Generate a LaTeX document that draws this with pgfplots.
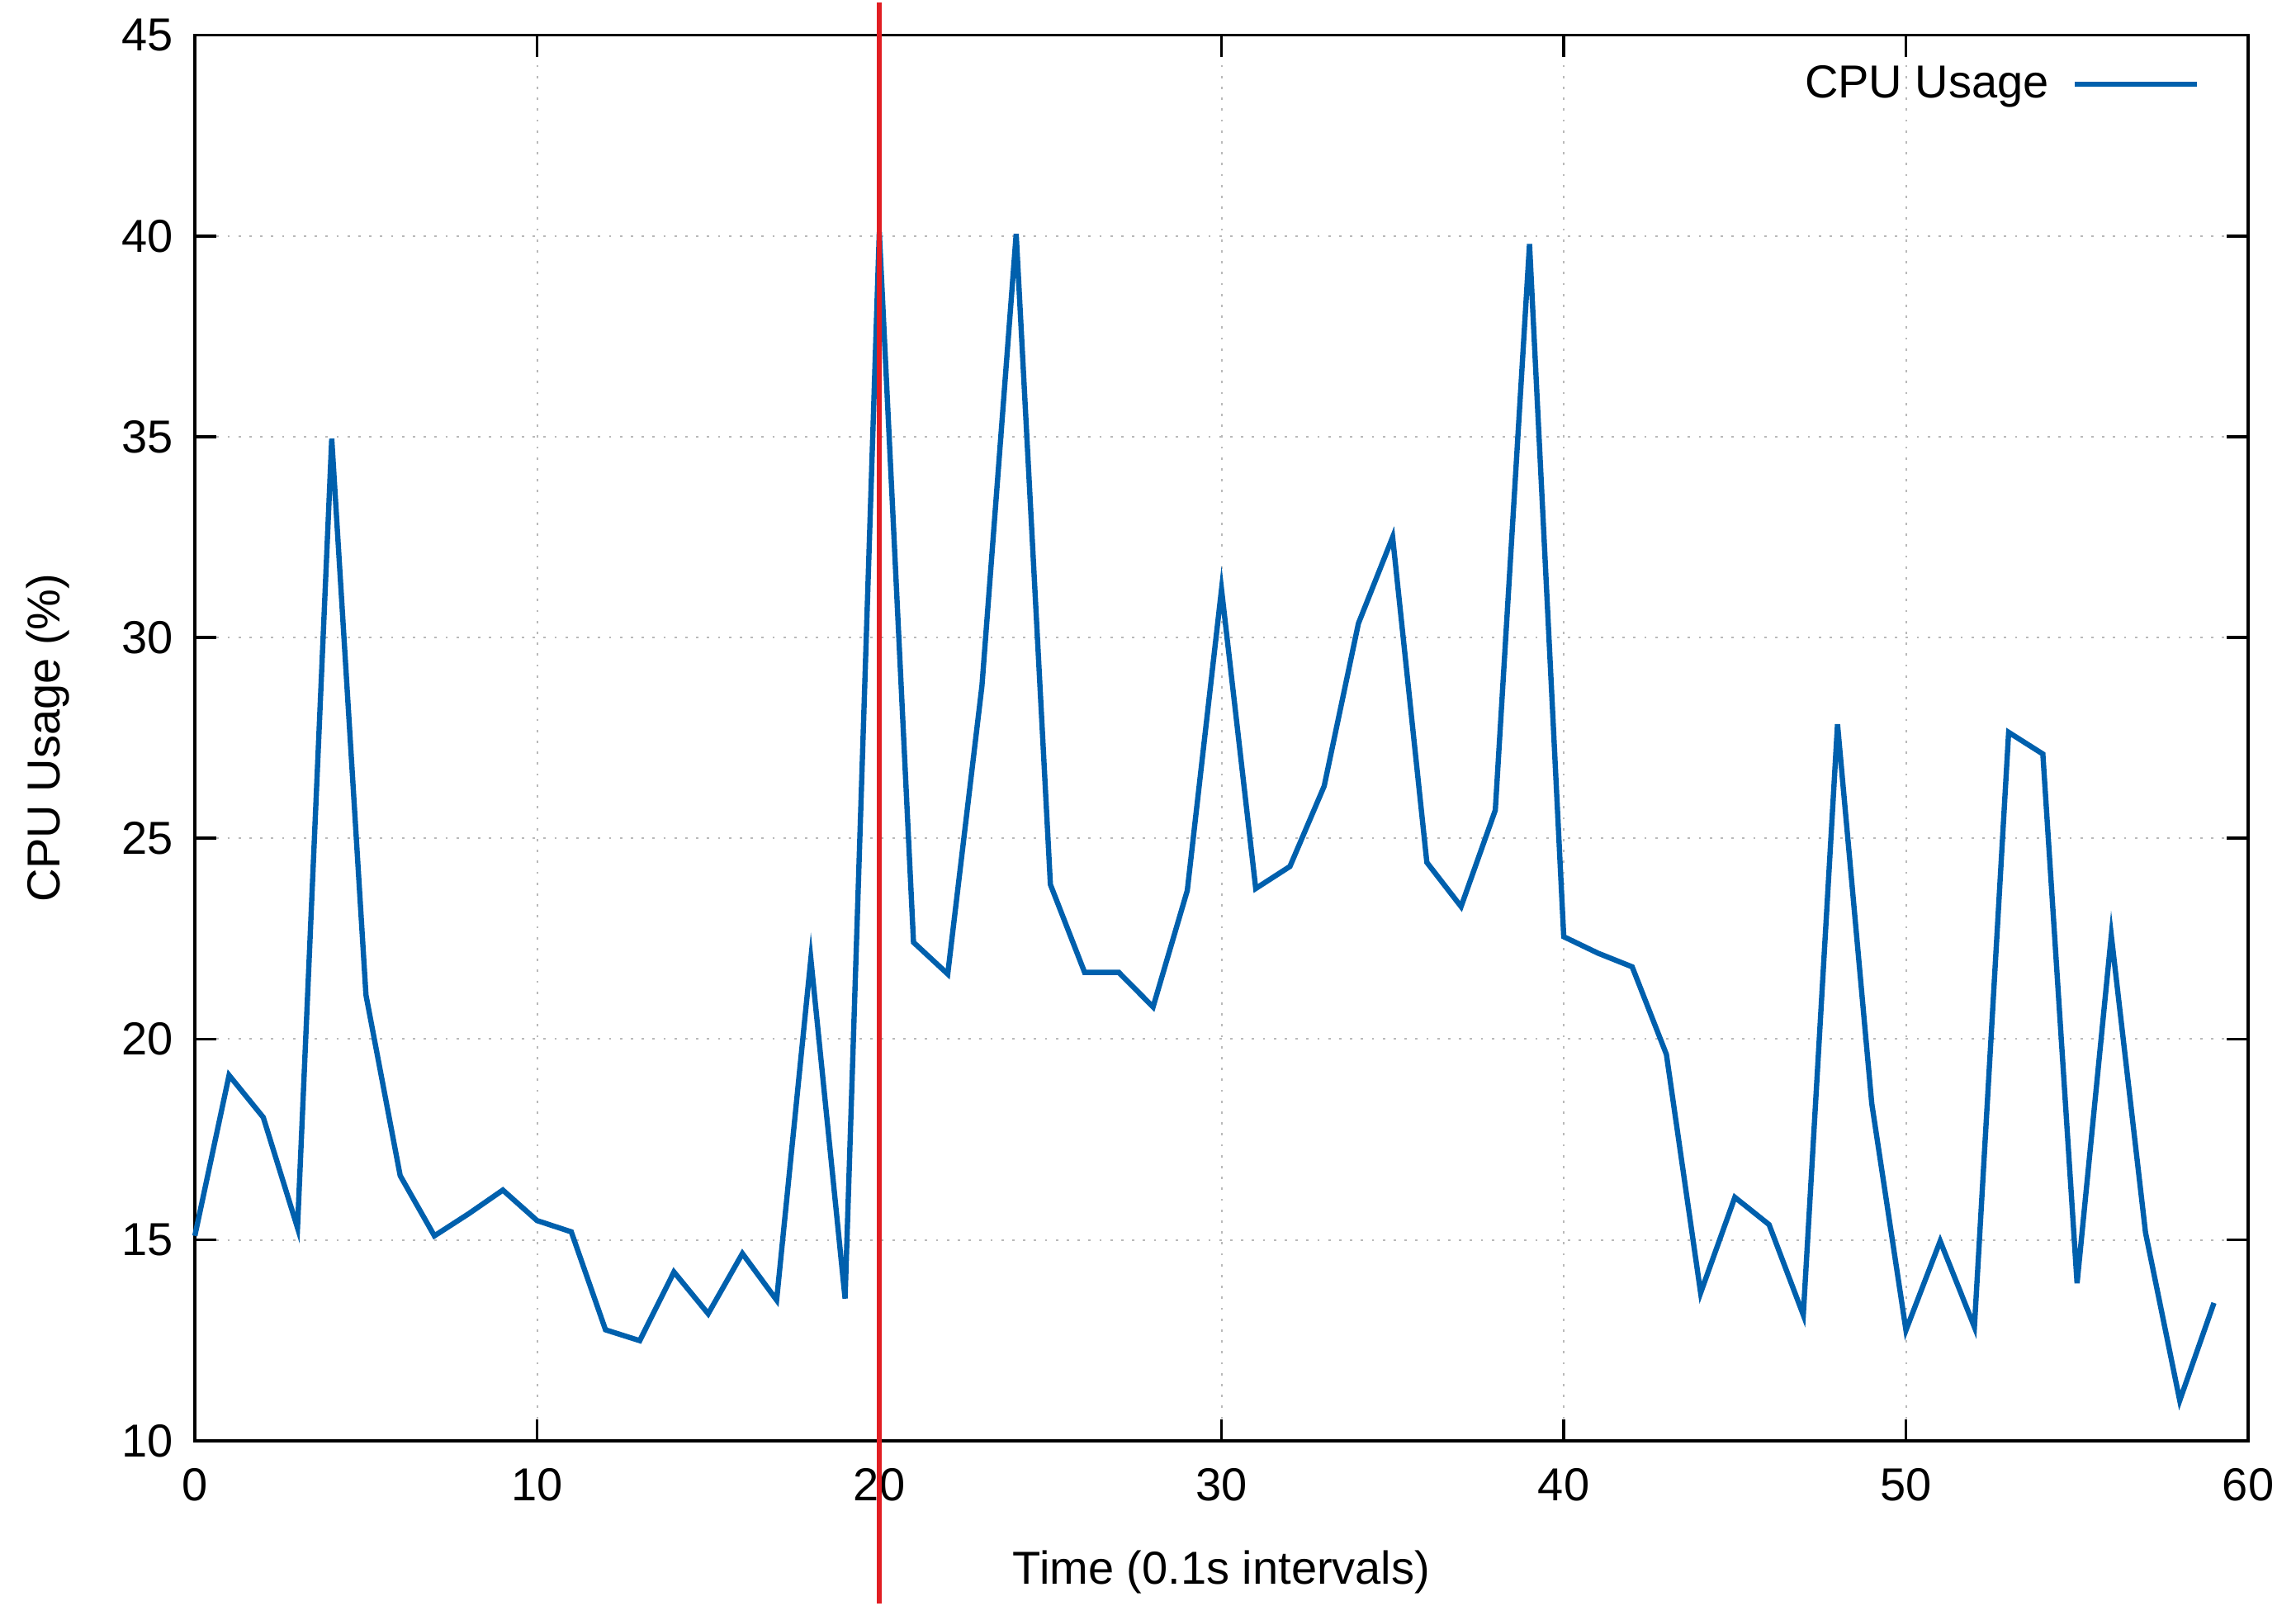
\documentclass[border=0pt]{standalone}
\usepackage{fontspec}
\setmainfont{Liberation Sans}
\usepackage{pgfplots}
\pgfplotsset{compat=1.18}
\definecolor{gpblue}{RGB}{0,96,173}
\definecolor{gpred}{RGB}{225,30,35}
\begin{document}
\begin{tikzpicture}
\begin{axis}[
  width=621.75pt, height=425.5pt, scale only axis,
  xmin=0, xmax=60, ymin=10, ymax=45,
  xtick={0,10,...,60}, ytick={10,15,...,45},
  tick align=inside, major tick length=6.5pt,
  axis line style={line width=0.9pt}, every tick/.style={black, line width=0.9pt},
  grid=major, grid style={gray!55, line width=0.5pt, dash pattern=on 0.7pt off 2.6pt},
  clip=false,
  /pgf/number format/assume math mode=true,
  tick label style={font=\fontsize{14}{16}\selectfont},
  xticklabel style={yshift=-5pt},
  yticklabel style={xshift=-3pt},
  label style={font=\fontsize{14}{16}\selectfont},
  xlabel={Time (0.1s intervals)},
  ylabel={CPU Usage (\%)},
  xlabel style={at={(axis description cs:0.5,-0.0934)}, anchor=center},
  ylabel style={at={(axis description cs:-0.0716,0.5)}, anchor=center},
  legend style={draw=none, fill=none, font=\fontsize{14}{16}\selectfont,
    at={(axis description cs:0.9815,0.9653)}, anchor=east, legend cell align=right},
  legend plot pos=right,
  legend image code/.code={\path (0pt,0pt); \draw[#1] (5pt,0pt) -- (42pt,0pt);},
]
\path (rel axis cs:-0.0949,-0.1157) rectangle (rel axis cs:1.0233,1.0235);
\addplot[gpblue, line width=1.6pt, mark=none] coordinates {
(0,15.1) (1,19.1) (2,18.05) (3,15.3) (4,34.95) (5,21.1) (6,16.6) (7,15.1)
(8,15.65) (9,16.24) (10,15.48) (11,15.2) (12,12.76) (13,12.49) (14,14.2)
(15,13.16) (16,14.66) (17,13.5) (18,22.0) (19,13.54) (20,40.1) (21,22.41)
(22,21.62) (23,28.8) (24,40.05) (25,23.85) (26,21.66) (27,21.66) (28,20.8)
(29,23.7) (30,31.2) (31,23.75) (32,24.3) (33,26.3) (34,30.35) (35,32.5)
(36,24.4) (37,23.3) (38,25.7) (39,39.8) (40,22.55) (41,22.14) (42,21.8)
(43,19.62) (44,13.68) (45,16.06) (46,15.38) (47,13.13) (48,27.84) (49,18.4)
(50,12.75) (51,14.97) (52,12.83) (53,27.64) (54,27.1) (55,13.92) (56,22.58)
(57,15.18) (58,11.0) (59,13.43)
};
\addlegendentry{CPU Usage}
\addplot[gpred, line width=1.4pt, mark=none, forget plot] coordinates {(20,5.95) (20,45.82)};
\end{axis}
\end{tikzpicture}
\end{document}
